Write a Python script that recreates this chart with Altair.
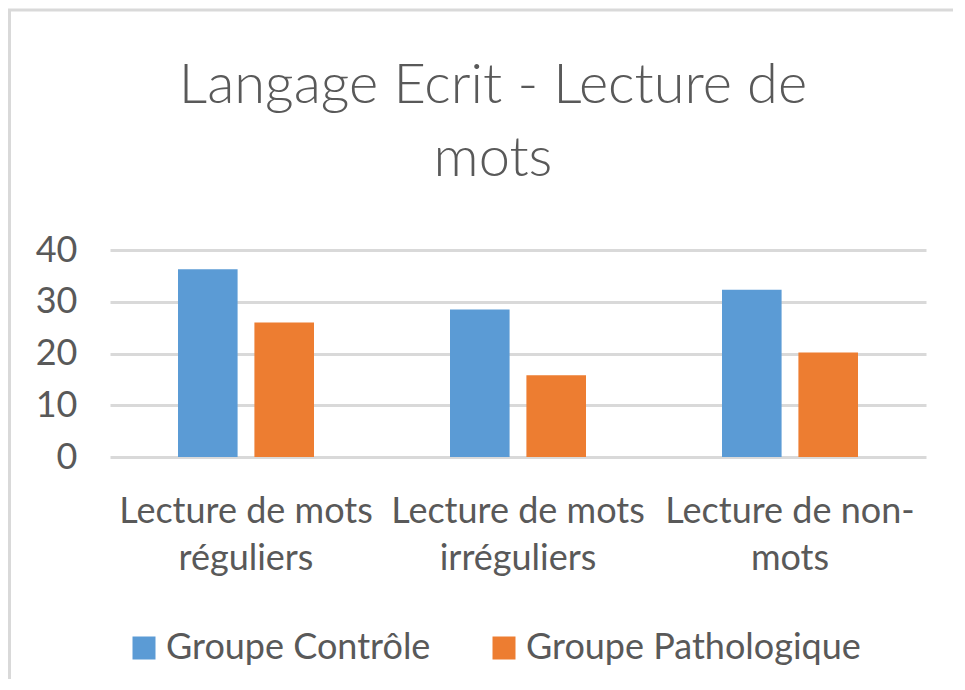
import altair as alt
import pandas as pd

categories = ["Lecture de mots réguliers", "Lecture de mots irréguliers", "Lecture de non-mots"]
groups = ["Groupe Contrôle", "Groupe Pathologique"]
controle = [36.3, 28.5, 32.3]
pathologique = [26.0, 15.8, 20.2]
y_ticks = [0, 10, 20, 30, 40]
colors = ["#5B9BD5", "#ED7D31"]
title_lines = ["Langage Ecrit - Lecture de", "mots"]

rows = []
for c, v1, v2 in zip(categories, controle, pathologique):
    rows.append({"cat": c, "group": groups[0], "value": v1})
    rows.append({"cat": c, "group": groups[1], "value": v2})
df = pd.DataFrame(rows)

FONT = "Lato"
TXT = "#595959"

bars = alt.Chart(df).mark_bar().encode(
    x=alt.X("cat:N", sort=categories,
            scale=alt.Scale(paddingInner=0.5, paddingOuter=0.25),
            axis=alt.Axis(title=None, labelAngle=0, ticks=False, domain=False,
                          labelFontSize=36, labelFont=FONT, labelColor=TXT,
                          labelLineHeight=47, labelPadding=37, labelLimit=400,
                          labelExpr="split(replace(replace(datum.label, 'mots ', 'mots|'), 'non-', 'non-|'), '|')")),
    xOffset=alt.XOffset("group:N", sort=groups, scale=alt.Scale(paddingInner=0.22)),
    y=alt.Y("value:Q", scale=alt.Scale(domain=[0, 40], nice=False),
            axis=alt.Axis(title=None, values=y_ticks, ticks=False, domain=False,
                          labelFontSize=36, labelFont=FONT, labelColor=TXT,
                          labelPadding=33, gridColor="#d9d9d9", gridWidth=3)),
    color=alt.Color("group:N", sort=groups,
                    scale=alt.Scale(domain=groups, range=colors),
                    legend=alt.Legend(title=None, orient="none", direction="horizontal",
                                      legendX=16, legendY=380, padding=0,
                                      symbolType="square", symbolSize=529,
                                      symbolStrokeWidth=0, symbolOpacity=1,
                                      labelFontSize=36, labelFont=FONT, labelColor=TXT,
                                      labelOffset=4, columnPadding=55, labelLimit=500)),
)

border_df = pd.DataFrame({"k": [0]})
left_border = alt.Chart(border_df).mark_rule(color="#d9d9d9", strokeWidth=3).encode(
    x=alt.value(-100.5), y=alt.value(-240), y2=alt.value(600))
top_border = alt.Chart(border_df).mark_rule(color="#d9d9d9", strokeWidth=3).encode(
    x=alt.value(-102), x2=alt.value(900), y=alt.value(-240))

chart = alt.layer(left_border, top_border, bars).properties(
    width=816, height=207,
    padding={"left": 102, "top": 242, "right": 27, "bottom": 222},
    autosize=alt.AutoSizeParams(type="none"),
    background="white",
    title=alt.TitleParams(text=title_lines, fontSize=56, font=FONT, fontWeight=300,
                          color=TXT, anchor="middle", dx=-25, lineHeight=73, offset=-223,
                          baseline="alphabetic"),
).configure_view(stroke=None)

chart.save("out.html", embed_options={"renderer": "svg", "actions": False})
